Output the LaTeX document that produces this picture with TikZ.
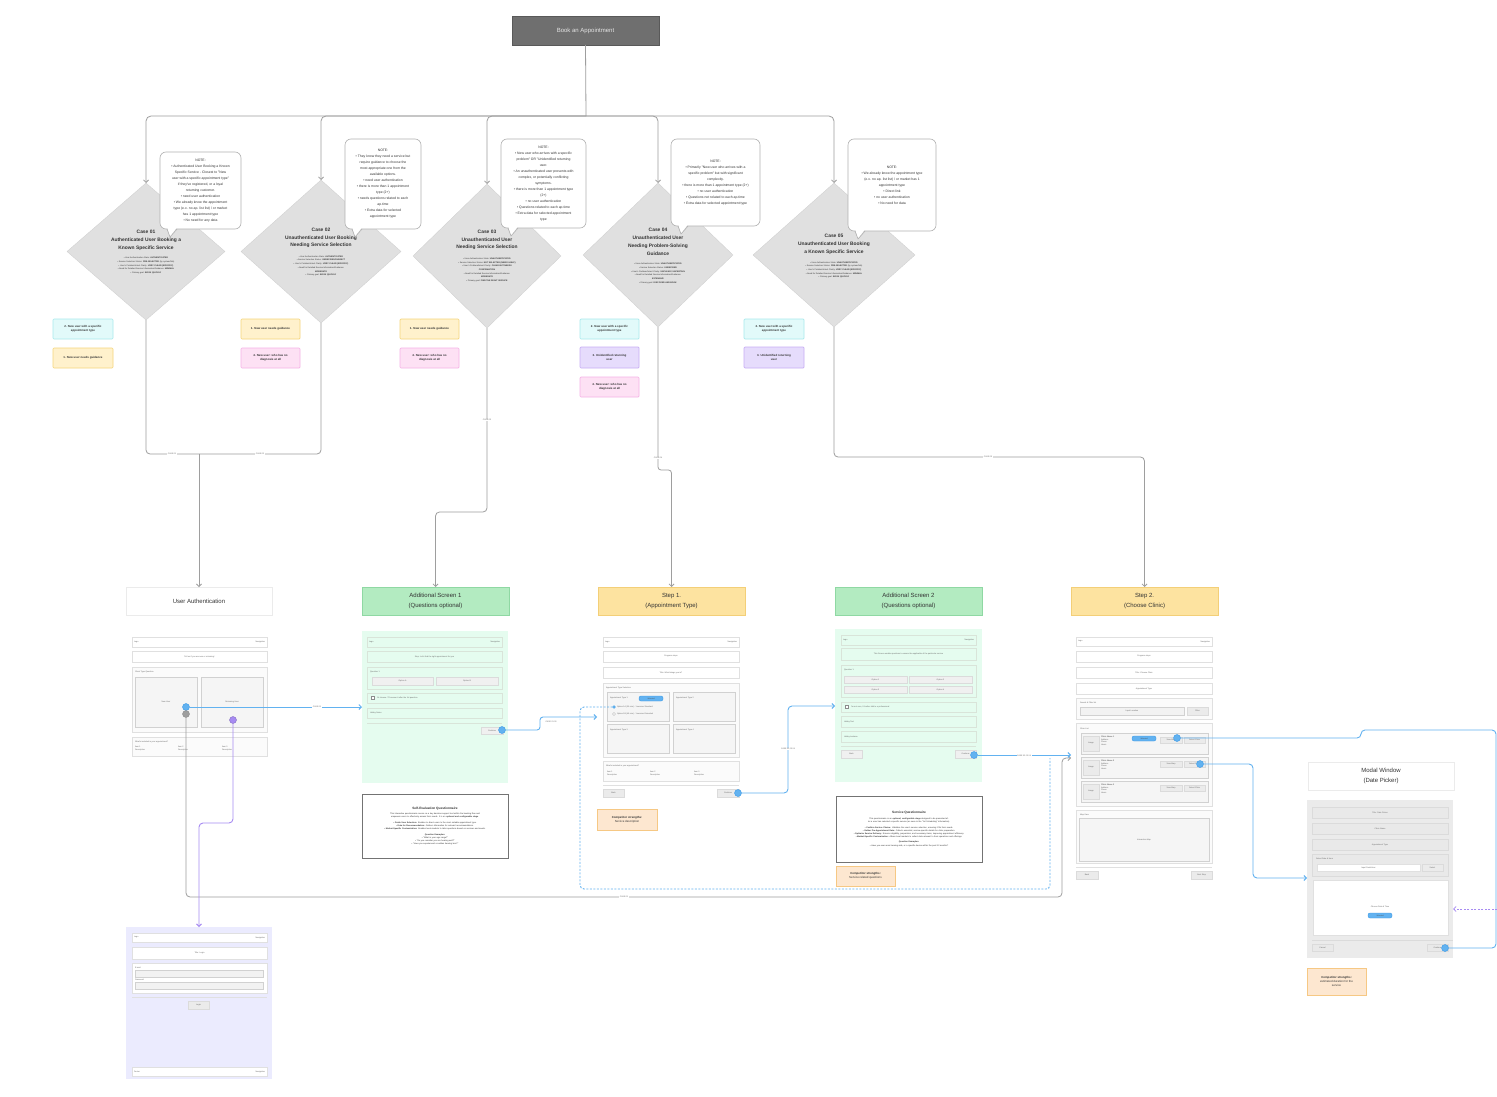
\documentclass[tikz,border=0pt]{standalone}
\usepackage{fontspec}
\setmainfont{Liberation Sans}
\usetikzlibrary{shapes.geometric,arrows.meta,calc}
\definecolor{cgrey}{HTML}{9E9E9E}
\definecolor{cblue}{HTML}{62B2F0}
\definecolor{cbluedk}{HTML}{3B9AE6}
\definecolor{cpurp}{HTML}{A78BF2}
\definecolor{bookf}{HTML}{6F6F6F}
\definecolor{diaf}{HTML}{E0E0E0}
\definecolor{cyanf}{HTML}{E2FAFA}\definecolor{cyand}{HTML}{A9E9EC}
\definecolor{yelf}{HTML}{FFF1CC}\definecolor{yeld}{HTML}{F4D57C}
\definecolor{pinkf}{HTML}{FDE1F4}\definecolor{pinkd}{HTML}{F5B2E6}
\definecolor{purf}{HTML}{E6DCFC}\definecolor{purd}{HTML}{C7AEF4}
\definecolor{greenh}{HTML}{B3EBC1}\definecolor{greenhd}{HTML}{8FD8A3}
\definecolor{yelh}{HTML}{FDE3A0}\definecolor{yelhd}{HTML}{F3CF78}
\definecolor{greenbg}{HTML}{E5FCEF}
\definecolor{lavbg}{HTML}{EBEBFE}
\definecolor{modbg}{HTML}{EBEBEB}
\definecolor{compf}{HTML}{FDE7D0}\definecolor{compd}{HTML}{F6C884}
\definecolor{txt}{HTML}{333333}
\definecolor{tinyc}{HTML}{6A6A6A}
\tikzset{
 every node/.style={inner sep=0pt,outer sep=0pt},
 gl/.style={draw=cgrey,line width=0.8pt},
 bl/.style={draw=cblue,line width=0.9pt},
 pl/.style={draw=cpurp,line width=0.9pt},
 arr/.style={-{Straight Barb[length=2.5pt,width=5pt]}},
 lab/.style={fill=white,inner sep=0.6pt,font=\fontsize{2}{2.4}\selectfont,text=tinyc},
 bookbox/.style={rectangle,fill=bookf,draw=bookf!80!black,line width=0.5pt,text=white!90!black,font=\fontsize{6}{8}\selectfont},
 dia/.style={diamond,fill=diaf,draw=diaf!92!black,line width=0.3pt},
 dtitle/.style={align=center,font=\bfseries\fontsize{4.9}{7.8}\selectfont,text=txt},
 dbul/.style={align=center,font=\fontsize{2.1}{3.7}\selectfont,text=txt},
 note/.style={rectangle,rounded corners=6pt,draw=cgrey!80,fill=white,line width=0.6pt,align=center,font=\fontsize{3.4}{6}\selectfont,text=txt},
 sticky/.style={rectangle,rounded corners=1pt,line width=0.7pt,align=center,font=\bfseries\fontsize{2.9}{4.4}\selectfont,text=txt},
 cyans/.style={sticky,fill=cyanf,draw=cyand},
 yels/.style={sticky,fill=yelf,draw=yeld},
 pinks/.style={sticky,fill=pinkf,draw=pinkd},
 purs/.style={sticky,fill=purf,draw=purd},
 hwhite/.style={rectangle,fill=white,draw=black!8,line width=0.5pt,align=center,font=\fontsize{6}{10}\selectfont,text=txt},
 hgreen/.style={hwhite,fill=greenh,draw=greenhd},
 hyel/.style={hwhite,fill=yelh,draw=yelhd},
 tx/.style={font=\fontsize{2}{2.7}\selectfont,text=tinyc,align=left},
 txc/.style={font=\fontsize{2}{2.7}\selectfont,text=tinyc,align=center},
 bar/.style={rectangle,fill=white,draw=black!12,line width=0.4pt,txc},
 pnl/.style={rectangle,fill=black!1.5,draw=black!12,line width=0.4pt,txc},
 card/.style={rectangle,fill=black!4,draw=black!18,line width=0.4pt,txc},
 btn/.style={rectangle,fill=black!8,draw=black!14,line width=0.4pt,txc},
 fld/.style={rectangle,fill=black!5,draw=black!18,line width=0.4pt,txc},
 gbg/.style={rectangle,fill=greenbg,draw=none},
 gbar/.style={rectangle,fill=greenbg,draw=green!30!black!15,line width=0.4pt,txc},
 gbtn/.style={rectangle,fill=black!6,draw=black!14,line width=0.4pt,txc},
 pill/.style={rectangle,rounded corners=2pt,fill=cblue,draw=cbluedk,line width=0.4pt,font=\fontsize{1.8}{2}\selectfont,text=black!70},
 mbar/.style={rectangle,fill=black!8.5,draw=black!14,line width=0.4pt,txc},
 comp/.style={rectangle,fill=compf,draw=compd,line width=0.8pt,align=center,font=\fontsize{2.9}{4.3}\selectfont,text=txt},
 qbox/.style={rectangle,fill=white,draw=black!55,line width=0.8pt},
 qtext/.style={align=center,font=\fontsize{2.1}{3.1}\selectfont,text=txt},
 bdot/.style={circle,minimum size=7pt,fill=cblue,draw=cbluedk,line width=0.4pt},
 gdot/.style={circle,minimum size=7pt,fill=cgrey,draw=black!45,line width=0.4pt},
 pdot/.style={circle,minimum size=7pt,fill=cpurp,draw=cpurp!80!black,line width=0.4pt},
 radio/.style={circle,minimum size=3pt,draw=black!45,line width=0.3pt,fill=white},
 chk/.style={rectangle,minimum size=3pt,draw=black!45,line width=0.3pt,fill=white},
}
\newcommand\bx[7]{\node[#1,minimum width={(#5)-(#3)},minimum height={(#6)-(#4)}] (#2) at ({((#3)+(#5))/2},{((#4)+(#6))/2}) {#7};}
\newcommand\hdr[6]{\bx{#1}{#2}{#3}{#4}{#5}{#6}{}%
 \node[tx,anchor=west] (#2l) at ([xshift=2]#2.west) {Logo};%
 \node[tx,anchor=east] (#2r) at ([xshift=-2]#2.east) {Navigation};}
\newcommand\tail[1]{\fill[white] ([xshift=7.4,yshift=0.9]#1.south west) -- ++(2.6,8.7) -- ++(6.4,-8.7) -- cycle;
 \draw[draw=cgrey!80,line width=0.6pt,line join=round] ([xshift=7]#1.south west) -- ++(3,8) -- ++(7,-8);}
\begin{document}
\begin{tikzpicture}[x=1pt,y=-1pt]
\path[use as bounding box,fill=white] (0,0) rectangle (1497,1097);

% ================= top tree
\bx{bookbox}{book}{512}{16}{659}{45}{Book an Appointment}
\coordinate (bus) at (586,116);
\draw[gl] (book.south) -- (bus);

\node[dia,minimum width=158,minimum height=137] (c1) at (146,251.5) {};
\node[dia,minimum width=160,minimum height=143] (c2) at (321,251.5) {};
\node[dia,minimum width=148,minimum height=144] (c3) at (487,256) {};
\node[dia,minimum width=150,minimum height=144] (c4) at (658,255) {};
\node[dia,minimum width=162,minimum height=144] (c5) at (834,255) {};
\foreach \c in {c1,c2,c3,c4,c5}{\draw[gl,arr,rounded corners=5] (bus) -| (\c.north);}

\node[dtitle] (c1t) at (146,240) {Case 01\\Authenticated User Booking a\\Known Specific Service};
\node[dbul] (c1b) at (146,265.5) {• User Authentication State: \textbf{AUTHENTICATED}\\• Service Selection Status: \textbf{PRE-SELECTED} (by system/link)\\• User's Problem/Intent Clarity: \textbf{VERY CLEAR (SPECIFIC)}\\• Need for Detailed Service Information/Guidance: \textbf{MINIMAL}\\• Primary goal: \textbf{BOOK QUICKLY}};
\node[dtitle] (c2t) at (321,238) {Case 02\\Unauthenticated User Booking\\Needing Service Selection};
\node[dbul] (c2b) at (321,266) {• User Authentication State: \textbf{AUTHENTICATED}\\• Service Selection Status: \textbf{UNDECIDED/SUBJECT}\\• User's Problem/Intent Clarity: \textbf{VERY CLEAR (SPECIFIC)}\\• Need for Detailed Service Information/Guidance:\\\textbf{MODERATE}\\• Primary goal: \textbf{BOOK QUICKLY}};
\node[dtitle] (c3t) at (487,240) {Case 03\\Unauthenticated User\\Needing Service Selection};
\node[dbul] (c3b) at (487,270) {• User Authentication State: \textbf{UNAUTHENTICATED}\\• Service Selection Status: \textbf{NOT SELECTED (NEEDS HELP)}\\• User's Problem/Intent Clarity: \textbf{CLEAR BUT NEEDS}\\\textbf{CONFIRMATION}\\• Need for Detailed Service Information/Guidance:\\\textbf{MODERATE}\\• Primary goal: \textbf{FIND THE RIGHT SERVICE}};
\node[dtitle] (c4t) at (658,242) {Case 04\\Unauthenticated User\\Needing Problem-Solving\\Guidance};
\node[dbul] (c4b) at (658,273.5) {• User Authentication State: \textbf{UNAUTHENTICATED}\\• Service Selection Status: \textbf{UNDECIDED}\\• User's Problem/Intent Clarity: \textbf{UNCLEAR / UNCERTAIN}\\• Need for Detailed Service Information/Guidance:\\\textbf{EXTENSIVE}\\• Primary goal: \textbf{DISCOVER AND BOOK}};
\node[dtitle] (c5t) at (834,244) {Case 05\\Unauthenticated User Booking\\a Known Specific Service};
\node[dbul] (c5b) at (834,270) {• User Authentication State: \textbf{UNAUTHENTICATED}\\• Service Selection Status: \textbf{PRE-SELECTED} (by system/link)\\• User's Problem/Intent Clarity: \textbf{VERY CLEAR (SPECIFIC)}\\• Need for Detailed Service Information/Guidance: \textbf{MINIMAL}\\• Primary goal: \textbf{BOOK QUICKLY}};

% ================= notes
\bx{note}{n1}{160}{152}{241}{229}{NOTE:\\• Authenticated User Booking a Known\\Specific Service - Closest to "New\\user with a specific appointment type"\\if they've registered, or a loyal\\returning customer.\\• need user authentication\\• We already know the appointment\\type (e.x. no ap. list list) / or market\\has 1 appointment type\\• No need for any data}
\tail{n1}
\bx{note}{n2}{345}{139}{421}{229}{NOTE:\\• They know they need a service but\\require guidance to choose the\\most appropriate one from the\\available options.\\• need user authentication\\• there is more than 1 appointment\\type (2+)\\• needs questions related to each\\ap.time\\• Extra data for selected\\appointment type}
\tail{n2}
\bx{note}{n3}{501}{139}{586}{228}{NOTE:\\• New user who arrives with a specific\\problem" OR "Unidentified returning\\user.\\• An unauthenticated user presents with\\complex, or potentially conflicting\\symptoms.\\• there is more than 1 appointment type\\(2+)\\• no user authentication\\• Questions related to each ap.time\\• Extra data for selected appointment\\type}
\tail{n3}
\bx{note}{n4}{671}{139}{760}{226}{NOTE:\\• Primarily "New user who arrives with a\\specific problem" but with significant\\complexity.\\• there is more than 1 appointment type (2+)\\• no user authentication\\• Questions not related to each ap.time\\• Extra data for selected appointment type}
\tail{n4}
\bx{note}{n5}{848}{139}{936}{231}{NOTE:\\• We already know the appointment type\\(e.x. no ap. list list) / or market has 1\\appointment type\\• Direct link\\• no user authentication\\• No need for data}
\tail{n5}

% ================= sticky notes
\bx{cyans}{s1a}{53}{319}{113}{339}{2. New user with a specific\\appointment type}
\bx{yels}{s1b}{53}{348}{113}{368}{1. New user needs guidance}
\bx{yels}{s2a}{241}{319}{300}{339}{1. New user needs guidance}
\bx{pinks}{s2b}{241}{348}{300}{368}{4. New user: who has no\\diagnosis at all}
\bx{yels}{s3a}{400}{319}{459}{339}{1. New user needs guidance}
\bx{pinks}{s3b}{400}{348}{459}{368}{4. New user: who has no\\diagnosis at all}
\bx{cyans}{s4a}{580}{319}{639}{339}{2. New user with a specific\\appointment type}
\bx{purs}{s4b}{580}{347}{639}{368}{3. Unidentified returning\\user}
\bx{pinks}{s4c}{580}{377}{639}{397}{4. New user: who has no\\diagnosis at all}
\bx{cyans}{s5a}{744}{319}{804}{339}{2. New user with a specific\\appointment type}
\bx{purs}{s5b}{744}{347}{804}{368}{3. Unidentified returning\\user}

% ================= screen headers
\bx{hwhite}{ua}{126}{587}{272}{615}{User Authentication}
\bx{hgreen}{as1}{362}{587}{509}{615}{Additional Screen 1\\(Questions optional)}
\bx{hyel}{st1}{598}{587}{745}{615}{Step 1.\\(Appointment Type)}
\bx{hgreen}{as2}{835}{587}{982}{615}{Additional Screen 2\\(Questions optional)}
\bx{hyel}{st2}{1071}{587}{1218}{615}{Step 2.\\(Choose Clinic)}
\bx{hwhite}{mw}{1308}{762}{1454}{790}{Modal Window\\(Date Picker)}

% ================= case connectors
\coordinate (j12) at (199,454);
\draw[gl,rounded corners=4] (c1.south) |- (j12);
\draw[gl,rounded corners=4] (c2.south) |- (j12);
\draw[gl,arr] (j12) -- (ua.north);
\node[lab] (l1) at (172,453.5) {CASE 01};
\node[lab] (l2) at (260,454) {CASE 02};
\coordinate (k3) at (487,512);
\draw[gl,arr,rounded corners=4] (c3.south) -- (k3) -| (as1.north);
\node[lab] (l3) at (487,420) {CASE 03};
\coordinate (k4) at (664,470);
\draw[gl,arr,rounded corners=3] (c4.south) |- (k4) -| (st1.north);
\node[lab] (l4) at (658,458) {CASE 04};
\coordinate (k5) at (988,457);
\draw[gl,arr,rounded corners=4] (c5.south) |- (k5) -| (st2.north);
\node[lab] (l5) at (988,457) {CASE 05};

% ================= User authentication mockup
\hdr{bar}{uah}{132}{637}{267}{647}
\bx{bar}{uat}{132}{651}{267}{662}{Tell us if you are new or returning!}
\bx{pnl}{uap}{132}{667}{267}{732}{}
\node[tx,anchor=west] (uapl) at (135,672) {Client Type Question};
\bx{card}{uan}{135}{677}{197}{727}{New User}
\bx{card}{uar}{201}{677}{263}{727}{Returning User}
\bx{pnl}{uab}{132}{737}{267}{756}{}
\node[tx,anchor=west] (uabl) at (135,742) {What's included in your appointment?};
\node[tx,anchor=north west] (uai1) at (135,746) {Item 1\\Description};
\node[tx,anchor=north west] (uai2) at (178,746) {Item 2\\Description};
\node[tx,anchor=north west] (uai3) at (222,746) {Item 3\\Description};

% ================= login mockup
\bx{rectangle,fill=lavbg}{lg}{126}{927}{272}{1079}{}
\hdr{bar}{lgh}{132}{933}{267}{942}
\bx{bar}{lgt}{132}{947}{267}{959}{Title: Login}
\bx{bar}{lgf}{132}{963}{267}{993}{}
\node[tx,anchor=west] (lgel) at (135,967.5) {E-mail};
\bx{fld}{lge}{135}{970}{263}{977}{}
\node[tx,anchor=west] (lgpl) at (135,980) {Password};
\bx{fld}{lgp}{135}{982}{263}{989}{}
\draw[draw=black!12,line width=0.4pt] (lgf.south west |- 0,997) coordinate (lgs1) -- (lgf.south east |- 0,997) coordinate (lgs2);
\bx{btn}{lgb}{188}{1001}{209}{1009}{Login}
\bx{bar}{lgft}{132}{1067}{267}{1076}{}
\node[tx,anchor=west] (lgftl) at ([xshift=2]lgft.west) {Footer};
\node[tx,anchor=east] (lgftr) at ([xshift=-2]lgft.east) {Navigation};

% ================= Additional screen 1 mockup
\bx{gbg}{as1bg}{362}{631}{508}{783}{}
\hdr{gbar}{a1h}{367}{637}{502}{647}
\bx{gbar}{a1t}{367}{651}{502}{662}{Step: Let's find the right appointment for you}
\bx{gbar}{a1q}{367}{667}{502}{689}{}
\node[tx,anchor=west] (a1ql) at (370,672) {Question 1};
\bx{gbtn}{a1o1}{372}{677}{433}{685}{Option A}
\bx{gbtn}{a1o2}{436}{677}{498}{685}{Option B}
\bx{gbar}{a1c}{367}{693}{502}{703}{}
\node[chk] (a1cb) at (373,698) {};
\node[tx,anchor=west] (a1ct) at (377,698) {Or choose / I'll answer it after the 1st question};
\bx{gbar}{a1f}{367}{708}{502}{718}{}
\node[tx,anchor=west] (a1ft) at (370,713) {Hobby Notes};
\draw[draw=green!30!black!15,line width=0.4pt] (a1f.south west |- 0,723) coordinate (a1s1) -- (a1f.south east |- 0,723) coordinate (a1s2);
\bx{gbtn}{a1n}{481}{727}{503}{734}{Continue}
\bx{qbox}{seq}{362}{794}{508}{858}{}
\node[qtext,text width=140] (seqt) at (435,826) {{\bfseries\fontsize{3.2}{4}\selectfont Self-Evaluation Questionnaire}\\[2.5pt]This interactive questionnaire serves as a key decision-support tool within the booking flow and empowers users to effectively assess their needs. It is an \textbf{optional and configurable stage}.\\[2.5pt]• \textbf{Guide User Selection:} Enables to direct users to the most suitable appointment type.\\• \textbf{Data for Recommendation:} Gathers information for relevant recommendations.\\• \textbf{Market-Specific Customization:} Enables local markets to tailor questions based on services and needs.\\[2.5pt]\textbf{Question Examples:}\\• "What is your age range?"\\• "Do you consider you are hearing well?"\\• "Have you experienced a sudden hearing loss?"};

% ================= Step 1 mockup
\bx{rectangle}{s1bg}{597}{631}{745}{800}{}
\hdr{bar}{s1h}{603}{637}{739}{647}
\bx{bar}{s1p}{603}{651}{739}{662}{Progress steps}
\bx{bar}{s1t}{603}{667}{739}{678}{Title: What brings you in?}
\bx{pnl}{s1s}{603}{683}{739}{757}{}
\node[tx,anchor=west] (s1sl) at (606,688) {Appointment Type Selection};
\bx{card}{t1}{607}{692}{669}{721}{}
\node[tx,anchor=west] (t1l) at (610,698) {Appointment Type 1};
\bx{pill}{t1s}{639}{696}{663}{701}{Selected}
\node[radio,fill=cblue,draw=cbluedk] (rad1) at (614,707) {};
\node[tx,anchor=west] (rad1t) at (617,707) {Option 1A (30 min) - 1 session Standard};
\node[radio] (rad2) at (614,714) {};
\node[tx,anchor=west] (rad2t) at (617,714) {Option 1B (45 min) - 1 session Extended};
\bx{card}{t2}{673}{692}{735}{721}{}
\node[tx,anchor=west] (t2l) at (676,698) {Appointment Type 2};
\bx{card}{t3}{607}{724}{669}{753}{}
\node[tx,anchor=west] (t3l) at (610,730) {Appointment Type 3};
\bx{card}{t4}{673}{724}{735}{753}{}
\node[tx,anchor=west] (t4l) at (676,730) {Appointment Type 4};
\bx{pnl}{s1i}{603}{761}{739}{781}{}
\node[tx,anchor=west] (s1il) at (606,766) {What's included in your appointment?};
\node[tx,anchor=north west] (s1i1) at (607,771) {Item 1\\Description};
\node[tx,anchor=north west] (s1i2) at (650,771) {Item 2\\Description};
\node[tx,anchor=north west] (s1i3) at (694,771) {Item 3\\Description};
\draw[draw=black!12,line width=0.4pt] (s1i.south west |- 0,785) coordinate (s1l1) -- (s1i.south east |- 0,785) coordinate (s1l2);
\bx{btn}{s1b}{603}{789}{624}{797}{Back}
\bx{btn}{s1n}{717}{789}{739}{797}{Continue}
\bx{comp}{cp1}{597}{809}{657}{830}{\textbf{Competitor strengths:}\\Service description}

% ================= Additional screen 2 mockup
\bx{gbg}{as2bg}{835}{629}{982}{782}{}
\hdr{gbar}{a2h}{841}{635}{976}{645}
\bx{gbar}{a2t}{841}{648}{976}{660}{This Screen enable questions to ensure the applicable of the particular service}
\bx{gbar}{a2q}{841}{665}{976}{697}{}
\node[tx,anchor=west] (a2ql) at (844,670) {Question 1};
\bx{gbtn}{a2o1}{844}{676}{907}{683}{Option 1}
\bx{gbtn}{a2o2}{909}{676}{972}{683}{Option 2}
\bx{gbtn}{a2o3}{844}{686}{907}{693}{Option 3}
\bx{gbtn}{a2o4}{909}{686}{972}{693}{Option 4}
\bx{gbar}{a2c}{841}{702}{976}{712}{}
\node[chk] (a2cb) at (847,707) {};
\node[tx,anchor=west] (a2ct) at (851,707) {I'm not sure, I'd rather talk to a professional};
\bx{gbar}{a2f}{841}{716}{976}{727}{}
\node[tx,anchor=west] (a2ft) at (844,721.5) {Hobby Text};
\bx{gbar}{a2g}{841}{731}{976}{742}{}
\node[tx,anchor=west] (a2gt) at (844,736.5) {Hobby textarea};
\draw[draw=green!30!black!15,line width=0.4pt] (a2g.south west |- 0,746) coordinate (a2l1) -- (a2g.south east |- 0,746) coordinate (a2l2);
\bx{gbtn}{a2b}{841}{750}{862}{758}{Back}
\bx{gbtn}{a2n}{955}{750}{976}{758}{Continue}
\bx{qbox}{svq}{836}{796}{982}{862}{}
\node[qtext,text width=140] (svqt) at (909,829) {{\bfseries\fontsize{3.2}{4}\selectfont Service Questionnaire}\\[2.5pt]This questionnaire is an \textbf{optional, configurable stage} designed to be presented after a user has selected a specific service (as seen in the "1st Scheduling" information).\\[2.5pt]• \textbf{Confirm Service Choice:} Validates the user's service selection, ensuring it fits their needs.\\• \textbf{Gather Pre-Appointment Data:} Collects essential, service-specific details for clinic preparation.\\• \textbf{Optimize Service Delivery:} Ensures eligibility, preparation, and necessary items, improving appointment efficiency.\\• \textbf{Market-Specific Customization:} Allows local markets to collect data relevant to their operations and offerings.\\[2.5pt]\textbf{Question Examples:}\\• Have you ever worn hearing aids, or a specific device within the past 12 months?};
\bx{comp}{cp2}{836}{866}{895}{886}{\textbf{Competitor strengths:}\\Service related questions}

% ================= Step 2 mockup
\bx{rectangle}{s2bg}{1071}{631}{1217}{883}{}
\hdr{bar}{s2h}{1076}{637}{1212}{646}
\bx{bar}{s2p}{1076}{651}{1212}{662}{Progress steps}
\bx{bar}{s2t}{1076}{667}{1212}{678}{Title: Choose Clinic}
\bx{bar}{s2a}{1076}{683}{1212}{694}{Appointment Type}
\bx{pnl}{s2s}{1076}{698}{1212}{719}{}
\node[tx,anchor=west] (s2sl) at (1080,703) {Search \& Filter list};
\bx{fld}{s2in}{1080}{707}{1184}{715}{Input Location}
\bx{btn}{s2fb}{1187}{707}{1208}{715}{Filter}
\bx{pnl}{s2c}{1076}{723}{1212}{806}{}
\node[tx,anchor=west] (s2cl) at (1080,729) {Clinic List};
\foreach \k/\y in {1/733,2/757,3/781}{
 \bx{card}{k\k}{1081}{\y}{1208}{\y+21}{}
 \bx{btn}{k\k i}{1083}{\y+3}{1099}{\y+18}{Image}
 \node[tx,anchor=north west] (k\k t) at (1101,\y+3) {\textbf{Clinic Name \k}\\Address\\Phone\\Hours};
 \bx{btn}{k\k v}{1160}{\y+4}{1182}{\y+10}{View Map}
 \bx{btn}{k\k s}{1184}{\y+4}{1205}{\y+10}{Select Clinic}
}
\bx{pill}{k1p}{1132}{736}{1156}{741}{Selected}
\bx{pnl}{s2m}{1076}{810}{1212}{863}{}
\node[tx,anchor=west] (s2ml) at (1080,815) {Map View};
\bx{card}{s2mi}{1079}{818}{1209}{861}{Interactive Map}
\draw[draw=black!12,line width=0.4pt] (s2m.south west |- 0,867) coordinate (s2l1) -- (s2m.south east |- 0,867) coordinate (s2l2);
\bx{btn}{s2b}{1076}{871}{1098}{879}{Back}
\bx{btn}{s2n}{1191}{871}{1212}{879}{Next Step}

% ================= Modal mockup
\bx{rectangle,fill=modbg}{mbg}{1307}{800}{1453}{958}{}
\bx{mbar}{mt}{1312}{807}{1448}{818}{Title: Date Picker}
\bx{mbar}{mc}{1312}{823}{1448}{834}{Clinic Name}
\bx{mbar}{ma}{1312}{839}{1448}{850}{Appointment Type}
\bx{mbar}{ms}{1312}{854}{1448}{876}{}
\node[tx,anchor=west] (msl) at (1316,859) {Select Date \& Hour};
\bx{bar}{msi}{1317}{864}{1420}{871}{Input Date/Hour}
\bx{btn}{msb}{1422}{864}{1443}{871}{Select}
\bx{bar}{mcal}{1313}{880}{1448}{935}{}
\node[txc] (mcalt) at (1380,907) {Choose Date \& Time};
\bx{pill}{mcp}{1368}{913}{1392}{918}{Selected}
\draw[draw=black!14,line width=0.4pt] (mbg.west |- 0,940) ++(5,0) coordinate (ml1) -- (mbg.east |- 0,940) coordinate (ml2);
\bx{mbar}{mcn}{1312}{944}{1333}{951}{Cancel}
\bx{mbar}{mco}{1427}{944}{1448}{951}{Continue}
\bx{comp}{cp3}{1307}{968}{1366}{995}{\textbf{Competitor strengths:}\\estimated duration for the\\service}

% ================= dots
\node[bdot] (d1) at (186,707) {};
\node[gdot] (d2) at (186,714) {};
\node[pdot] (d3) at (233,720) {};
\node[bdot] (d4) at (502,730) {};
\node[bdot] (d5) at (738,793) {};
\node[bdot] (d6) at (974,755) {};
\node[bdot] (d7) at (1177,738) {};
\node[bdot] (d8) at (1200,764) {};
\node[bdot] (d9) at (1445,948) {};

% ================= flow connectors
\draw[bl,arr] (d1) -- (d1 -| as1bg.west);
\node[lab] (l6) at (317,707) {CASE 01};
\coordinate (g1) at (186,897);
\coordinate (g2) at (1062,758);
\draw[gl,arr,rounded corners=4] (d2) -- (g1) -| (g2) -- (g2 -| s2bg.west);
\node[lab] (l7) at (624,897) {CASE 01};
\coordinate (p1) at (216,823);
\draw[pl,arr,rounded corners=4] (d3) |- (p1) -| (lg.north);
\coordinate (k7) at (540,717);
\draw[bl,arr,rounded corners=3] (d4) -| (k7) -- (k7 -| s1bg.west);
\node[lab] (l8) at (551,722) {CASE 01 03};
\coordinate (q1) at (580,889);
\coordinate (q2) at (1050,758);
\draw[bl,dashed,dash pattern=on 2pt off 1.5pt,rounded corners=4] (rad1) -| (q1) -| (q2);
\coordinate (k8) at (788,749);
\coordinate (as2in) at (835,706);
\draw[bl,arr,rounded corners=4] (d5) -| (k8) |- (as2in);
\node[lab] (l9) at (788,749) {CASE 02 03 04};
\draw[bl,arr] (d6) -- (d6 -| s2bg.west);
\node[lab] (l10) at (1024,756) {CASE 02 03 04};
\coordinate (r2) at (1361,730);
\coordinate (r3) at (1496,940);
\draw[bl,rounded corners=4] (d7) -| (r2) -| (r3) |- (d9);
\coordinate (r4) at (1253,820);
\coordinate (m1in) at (1307,878);
\draw[bl,arr,rounded corners=4] (d8) -| (r4) |- (m1in);
\coordinate (pe) at (1497,909);
\draw[draw=cpurp,line width=0.8pt,arr,dash pattern=on 2pt off 1.5pt] (pe) -- (pe -| mbg.east);
\end{tikzpicture}
\end{document}
